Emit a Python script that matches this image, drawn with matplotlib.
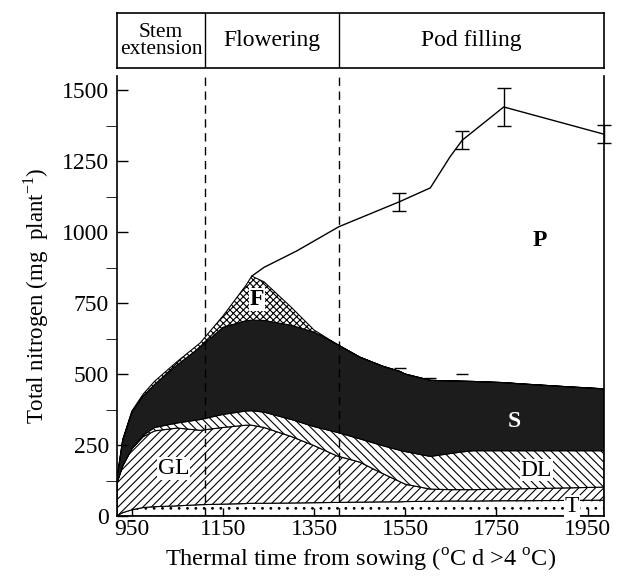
import matplotlib
matplotlib.use("Agg")
import matplotlib.pyplot as plt

plt.rcParams.update({
    "font.family": "Liberation Serif",
    "mathtext.fontset": "custom",
    "mathtext.rm": "Liberation Serif",
    "hatch.linewidth": 0.8,
})

# thermal time (degC d) where the stacked pools were read
X = [918, 930, 950, 975, 1000, 1050, 1100, 1150, 1200, 1213, 1240, 1300, 1350,
     1400, 1450, 1500, 1537, 1550, 1605, 1648, 1675, 1700, 1766, 1800, 1900, 1986]
# nitrogen in each pool (mg plant-1), bottom to top
T = [2, 12, 22, 30, 33, 36, 40, 42, 44, 45, 45, 46, 47,
     48, 49, 50, 50, 51, 52, 53, 53, 53, 54, 54, 55, 56]
GL = [118, 165, 215, 250, 267, 274, 262, 270, 276, 275, 267, 234, 201,
      164, 141, 100, 72, 61, 43, 40, 40, 40, 41, 42, 44, 46]
DL = [0, 0, 0, 5, 12, 18, 38, 46, 50, 51, 54, 60, 67,
      83, 82, 98, 110, 115, 115, 127, 133, 137, 135, 134, 131, 128]
S = [20, 90, 128, 138, 152, 205, 255, 307, 318, 319, 323, 332, 333,
     310, 288, 280, 278, 273, 268, 256, 249, 244, 240, 236, 226, 218]
F = [0, 3, 5, 7, 11, 12, 15, 40, 124, 155, 136, 63, 7,
     0, 0, 0, 0, 0, 0, 0, 0, 0, 0, 0, 0, 0]

# total plant N (top line, pods included)
P_X = [1213, 1240, 1312, 1404, 1537, 1605, 1648, 1675, 1766, 1986]
P_Y = [845, 876, 934, 1019, 1107, 1156, 1265, 1324, 1441, 1345]
ERR_X = [1537, 1675, 1766, 1986]
ERR_Y = [1107, 1324, 1441, 1345]
ERR = [32, 32, 66, 32]
# lower caps visible just above the stem pool
CAP_X = [1538, 1604, 1674]
CAP_Y = [521, 486, 500]

PHASES = ["Stem\nextension", "Flowering", "Pod filling"]
PHASE_EDGES = [918, 1110, 1404, 1986]

BLACK = "#1c1c1c"

fig = plt.figure(figsize=(6.17, 5.87), dpi=100)
ax = fig.add_axes([0.1901, 0.1209, 0.7888, 0.7496])
hx = fig.add_axes([0.1901, 0.8836, 0.7888, 0.0937])

ax.stackplot(X, T, GL, DL, S, F,
             colors=["white", "white", "white", BLACK, "white"],
             hatch=["..", "////", "\\\\\\\\", "", "xxxxx"],
             edgecolor="black", linewidth=0.8)

ax.plot(P_X, P_Y, color="black", lw=1.0)
ax.errorbar(ERR_X, ERR_Y, yerr=ERR, fmt="none", ecolor="black",
            elinewidth=1.0, capsize=5, capthick=1.0, clip_on=False)
ax.plot(CAP_X, CAP_Y, ls="none", marker="_", ms=9, mew=1.0, color="black")

for xv in PHASE_EDGES[1:-1]:
    ax.axvline(xv, color="black", ls=(0, (6, 4)), lw=1.0, zorder=5)

lab = dict(fontsize=17, ha="center", va="center", zorder=6)
box = dict(facecolor="white", edgecolor="none", pad=0.5)
ax.text(1846, 972, "P", fontweight="bold", **lab)
ax.text(1225, 763, "F", fontweight="bold", bbox=box, **lab)
ax.text(1789, 332, "S", fontweight="bold", color="white", **lab)
ax.text(1041, 168, "GL", bbox=box, **lab)
ax.text(1838, 162, "DL", bbox=box, **lab)
ax.text(1915, 33, "T", bbox=box, **lab)

ax.set_xlim(918, 1986)
ax.set_ylim(0, 1550)
ax.set_xticks([950, 1150, 1350, 1550, 1750, 1950])
ax.set_yticks([0, 250, 500, 750, 1000, 1250, 1500])
ax.set_yticks(range(125, 1500, 250), minor=True)
ax.tick_params(axis="both", direction="in", labelsize=17, width=1.0)
ax.tick_params(axis="y", which="both", length=8, pad=6)
ax.tick_params(axis="x", length=6, pad=2)
ax.spines["top"].set_visible(False)
for s in ("left", "right", "bottom"):
    ax.spines[s].set_linewidth(1.2)

ax.set_xlabel(r"Thermal time from sowing ($^{\rm o}$C d >4 $^{\rm o}$C)",
              fontsize=17.5, labelpad=5)
ax.set_ylabel(r"Total nitrogen (mg  plant$^{-1}$)", fontsize=16.5, labelpad=8)

# growth-phase header band
hx.set_xlim(ax.get_xlim())
hx.set_ylim(0, 1)
hx.set_xticks([])
hx.set_yticks([])
for s in hx.spines.values():
    s.set_linewidth(1.2)
for xv in PHASE_EDGES[1:-1]:
    hx.axvline(xv, color="black", lw=1.0)
for i, name in enumerate(PHASES):
    mid = (PHASE_EDGES[i] + PHASE_EDGES[i + 1]) / 2
    fs = 15.5 if i == 0 else 17
    hx.text(mid, 0.5, name, ha="center", va="center", fontsize=fs,
            linespacing=0.9)

fig.savefig("out.png", dpi=100)
